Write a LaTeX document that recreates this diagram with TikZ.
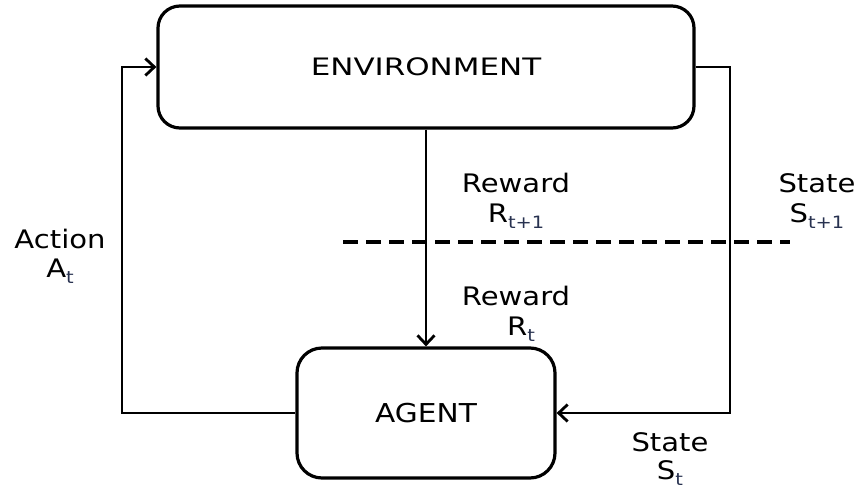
\documentclass[tikz,border=0pt]{standalone}
\usepackage{fontspec}
\usetikzlibrary{arrows.meta}
\newfontfamily\labf[FakeStretch=1.14]{DejaVu Sans}
\newfontfamily\envf[FakeStretch=1.29]{DejaVu Sans}
\definecolor{subc}{RGB}{40,50,80}
\newcommand{\sbx}[1]{\raisebox{-0.27em}{\fontsize{17}{17}\selectfont\color{subc}#1}}
\tikzset{
  box/.style={draw, line width=3.2pt, rounded corners=22pt, inner sep=0pt},
  conn/.style={line width=2.8pt},
  arr/.style={conn, -{Straight Barb[length=9pt,width=17pt]}},
  lab/.style={anchor=base, inner sep=0pt, font=\labf\fontsize{25.5}{30}\selectfont},
  dash line/.style={line width=3.2pt, dash pattern=on 15pt off 8pt}
}
\begin{document}
\begin{tikzpicture}[x=1pt,y=-1pt]
\useasboundingbox (0,0) rectangle (860,493);
\node[box, minimum width=536pt, minimum height=122pt, font=\envf\fontsize{24}{28}\selectfont] (env) at (426,67) {ENVIRONMENT};
\node[box, minimum width=258pt, minimum height=130pt, rounded corners=25pt, font=\labf\fontsize{26}{30}\selectfont] (agent) at (426,413) {AGENT};
\coordinate (al) at (122,413);
\coordinate (sr) at (730,413);
\coordinate (d1) at (343,242);
\coordinate (d2) at (790,242);
\draw[arr] (env.south) -- (agent.north);
\draw[arr] (agent.west) -- (al) |- (env.west);
\draw[arr] (env.east) -| (sr) -- (agent.east);
\draw[dash line] (d1) -- (d2);
\node[lab] (rw1) at (516,192) {Reward};
\node[lab] (r1) at (516,222) {R\sbx{t+1}};
\node[lab] (st1) at (817,192) {State};
\node[lab] (s1) at (817,222) {S\sbx{t+1}};
\node[lab] (ac) at (60,248) {Action};
\node[lab] (a0) at (60,277) {A\sbx{t}};
\node[lab] (rw0) at (516,305) {Reward};
\node[lab] (r0) at (521,335) {R\sbx{t}};
\node[lab] (st0) at (670,451) {State};
\node[lab] (s0) at (670,479) {S\sbx{t}};
\end{tikzpicture}
\end{document}
